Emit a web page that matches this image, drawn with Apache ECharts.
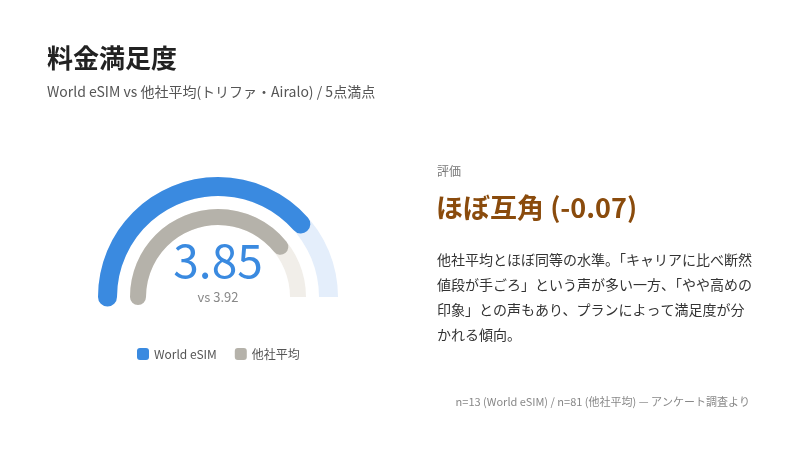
<!DOCTYPE html>
<html>
<head>
<meta charset="utf-8">
<script src="https://cdn.jsdelivr.net/npm/echarts@6/dist/echarts.min.js"></script>
<style>
html, body { margin: 0; padding: 0; background: #fff; }
#main { width: 800px; height: 450px; }
</style>
</head>
<body>
<div id="main"></div>
<script>
var FONT = '"Noto Sans CJK JP", "Noto Sans", sans-serif';

// data
var seriesNames = ['World eSIM', '他社平均'];
var seriesColors = ['#3a8ae0', '#b5b2aa'];
var worldValues = [3.85];
var otherValues = [3.92];
var scaleMax = 5;
var sampleSizes = [13, 81];

var diff = (worldValues[0] - otherValues[0]).toFixed(2);

var chart = echarts.init(document.getElementById('main'));

function gaugeBase(name, value, radius, width, color, bg) {
  return {
    type: 'gauge',
    name: name,
    center: [218, 297],
    radius: radius,
    startAngle: 180,
    endAngle: 0,
    min: 0,
    max: scaleMax,
    itemStyle: { color: color },
    pointer: { show: false },
    axisTick: { show: false },
    splitLine: { show: false },
    axisLabel: { show: false },
    anchor: { show: false },
    title: { show: false },
    axisLine: { lineStyle: { width: width, color: [[1, bg]] } },
    progress: { show: true, width: width, roundCap: true, itemStyle: { color: color } },
    data: [{ name: name, value: value, itemStyle: { color: color } }]
  };
}

var s1 = gaugeBase(seriesNames[0], worldValues[0], 120, 19, seriesColors[0], '#e4eefb');
s1.detail = {
  formatter: function (v) { return v.toFixed(2); },
  offsetCenter: [0, -36],
  fontSize: 46,
  fontWeight: 'normal',
  fontFamily: FONT,
  color: seriesColors[0]
};
var s2 = gaugeBase(seriesNames[1], otherValues[0], 88, 16, seriesColors[1], '#f1eee9');
s2.detail = {
  formatter: function (v) { return 'vs ' + v.toFixed(2); },
  offsetCenter: [0, 0],
  fontSize: 13,
  fontWeight: 'normal',
  fontFamily: FONT,
  color: '#888'
};

var option = {
  backgroundColor: '#fff',
  animation: false,
  textStyle: { fontFamily: FONT },
  title: {
    text: '料金満足度',
    subtext: 'World eSIM vs 他社平均(トリファ・Airalo) / ' + scaleMax + '点満点',
    left: 42,
    top: 40,
    itemGap: 14,
    textStyle: { fontSize: 26, fontWeight: 'bold', color: '#222', fontFamily: FONT },
    subtextStyle: { fontSize: 14, color: '#555', fontFamily: FONT }
  },
  legend: {
    data: seriesNames.map(function (n, i) {
      return { name: n, itemStyle: { color: seriesColors[i] } };
    }),
    left: 132,
    top: 343,
    itemWidth: 12,
    itemHeight: 12,
    itemGap: 18,
    icon: 'roundRect',
    textStyle: { fontSize: 12, color: '#555', fontFamily: FONT }
  },
  series: [s1, s2],
  graphic: [
    {
      type: 'text', left: 437, top: 165,
      style: { text: '評価', fontSize: 12, fill: '#777', fontFamily: FONT }
    },
    {
      type: 'text', left: 436, top: 194,
      style: { text: 'ほぼ互角 (' + diff + ')', fontSize: 27, fontWeight: 'bold', fill: '#8a4b0c', fontFamily: FONT }
    },
    {
      type: 'text', left: 437, top: 247,
      style: {
        text: '他社平均とほぼ同等の水準。「キャリアに比べ断然\n値段が手ごろ」という声が多い一方、「やや高めの\n印象」との声もあり、プランによって満足度が分\nかれる傾向。',
        fontSize: 14, lineHeight: 25, fill: '#333', fontFamily: FONT
      }
    },
    {
      type: 'text', right: 50, top: 396,
      style: {
        text: 'n=' + sampleSizes[0] + ' (World eSIM) / n=' + sampleSizes[1] + ' (他社平均) — アンケート調査より',
        fontSize: 11, fill: '#888', fontFamily: FONT
      }
    }
  ]
};

chart.setOption(option);
window.onresize = chart.resize;
</script>
</body>
</html>
